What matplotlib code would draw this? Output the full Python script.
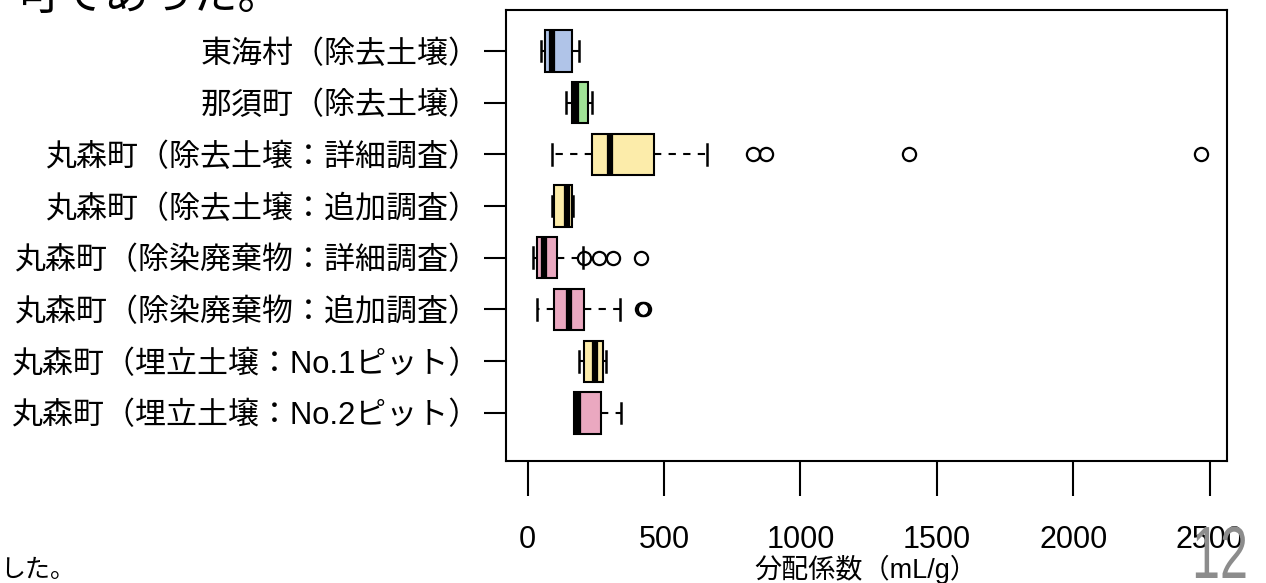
import matplotlib.pyplot as plt
from matplotlib.textpath import TextPath
from matplotlib.patches import PathPatch
from matplotlib.font_manager import FontProperties
from matplotlib.transforms import Affine2D

plt.rcParams['font.family'] = ['Liberation Sans', 'Noto Sans CJK JP', 'DejaVu Sans']

# sample groups, top to bottom
labels = [
    "東海村（除去土壌）",
    "那須町（除去土壌）",
    "丸森町（除去土壌：詳細調査）",
    "丸森町（除去土壌：追加調査）",
    "丸森町（除染廃棄物：詳細調査）",
    "丸森町（除染廃棄物：追加調査）",
    "丸森町（埋立土壌：No.1ピット）",
    "丸森町（埋立土壌：No.2ピット）",
]
whislo = [49, 140, 91, 91, 18, 34, 189, 170]
q1 = [64, 162, 235, 98, 34, 98, 205, 170]
med = [88, 178, 301, 145, 59, 150, 247, 186]
q3 = [164, 220, 462, 164, 107, 205, 278, 269]
whishi = [189, 237, 657, 165, 202, 339, 287, 341]
fliers = [[], [], [827, 874, 1399, 2467], [], [208, 262, 312, 415], [418, 426], [], []]
colors = ["#b0c4e8", "#a0e296", "#fcecaa", "#fcecaa", "#eaa8c0", "#eaa8c0", "#fcecaa", "#eaa8c0"]

xticks = [0, 500, 1000, 1500, 2000, 2500]

stats = []
for i in range(len(labels)):
    stats.append(dict(whislo=whislo[i], q1=q1[i], med=med[i], q3=q3[i],
                      whishi=whishi[i], fliers=fliers[i]))

fig = plt.figure(figsize=(12.66, 5.83), dpi=100)
ax = fig.add_axes([0.3995, 0.2093, 0.5697, 0.7735])

positions = list(range(1, len(labels) + 1))
bp = ax.bxp(stats, positions=positions, orientation='horizontal', widths=0.8,
            capwidths=0.4, patch_artist=True, showfliers=True,
            boxprops=dict(linewidth=1.5, edgecolor='black'),
            medianprops=dict(color='black', linewidth=4.5, solid_capstyle='butt'),
            whiskerprops=dict(color='black', linewidth=1.5, linestyle=(0, (3.5, 3.5))),
            capprops=dict(color='black', linewidth=1.8),
            flierprops=dict(marker='o', markersize=9.5, markerfacecolor='none',
                            markeredgecolor='black', markeredgewidth=1.6))
for patch, c in zip(bp['boxes'], colors):
    patch.set_facecolor(c)

ax.set_xlim(-80, 2563)
ax.set_ylim(8.93, 0.208)

ax.set_yticks(positions)
ax.set_yticklabels(labels, fontsize=22.3)
ax.set_xticks(xticks)
ax.set_xticklabels([str(t) for t in xticks], fontsize=22)
ax.tick_params(axis='y', length=16, width=1.5, pad=3)
ax.tick_params(axis='x', length=25, width=1.5, pad=21)
for s in ax.spines.values():
    s.set_linewidth(1.5)

fig.text(866 / 1266, 0.024, "分配係数（mL/g）", fontsize=19.5, ha='center', va='center')

# slide text around the chart
fig.text(0.012, 0.985, "可であった。", fontsize=32, ha='left', va='baseline')
fig.text(0.0, 0.01, "した。", fontsize=18, ha='left', va='baseline')

# page number, narrow grey digits
num = TextPath((0, 0), "12", size=74, prop=FontProperties(family='Liberation Sans'))
page = PathPatch(num, facecolor='#8c8c8c', edgecolor='none')
page.set_transform(Affine2D().scale(0.68, 1.0).translate(1192, 5))
fig.patches.append(page)

fig.savefig("out.png", dpi=100)
